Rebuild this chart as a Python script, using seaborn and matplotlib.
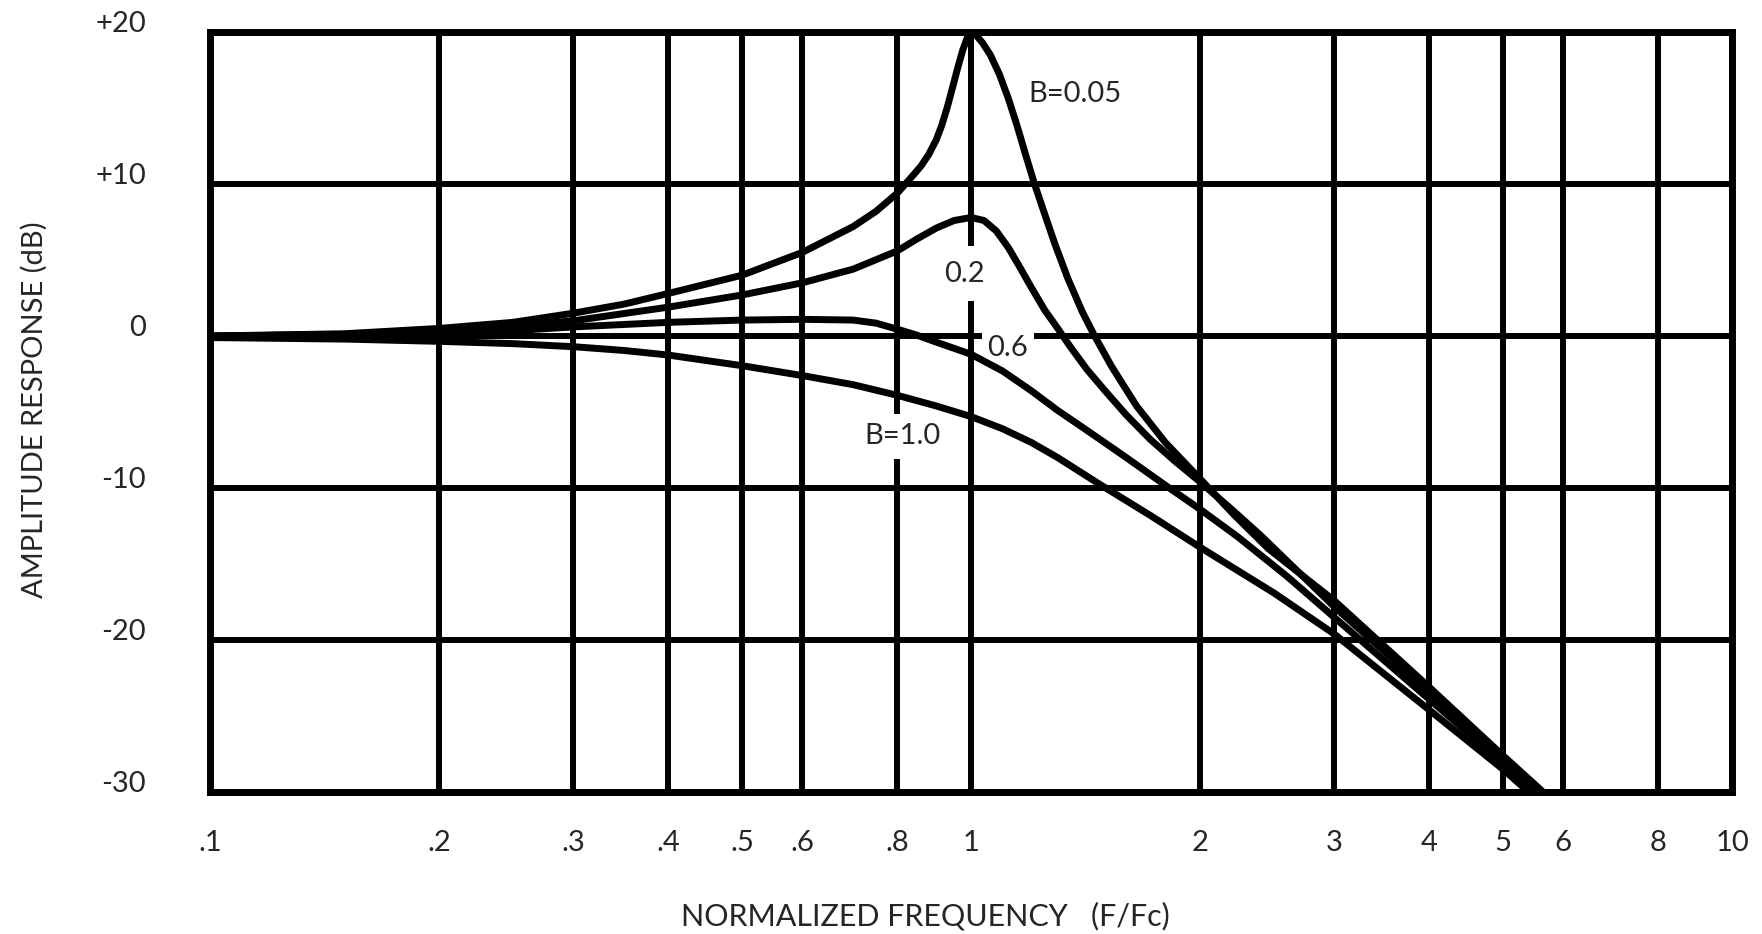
import pandas as pd
import matplotlib
matplotlib.use('Agg')
import matplotlib.pyplot as plt
import seaborn as sns
from matplotlib.ticker import NullLocator


# Curvas (frequencia normalizada F/Fc x resposta em dB)
f_005 = [0.1, 0.15, 0.2, 0.25, 0.3, 0.35, 0.4, 0.5, 0.6, 0.7,
         0.75, 0.8, 0.84, 0.86, 0.88, 0.9, 0.915, 0.93, 0.945, 0.96,
         0.975, 0.99, 1.0, 1.015, 1.035, 1.06, 1.09, 1.12, 1.15, 1.18,
         1.21, 1.25, 1.29, 1.34, 1.4, 1.45, 1.53, 1.65, 1.8, 2.0,
         2.22, 2.46, 3.0, 4.0, 5.0, 6.0]
db_005 = [0.0, 0.15, 0.5, 0.9, 1.5, 2.1, 2.8, 4.0, 5.5, 7.2,
          8.2, 9.4, 10.6, 11.2, 11.95, 12.9, 13.85, 15.0, 16.3, 17.6,
          18.8, 19.7, 20.0, 19.8, 19.3, 18.5, 17.2, 15.6, 13.8, 11.9,
          10.1, 8.0, 6.0, 3.8, 1.6, 0.1, -2.0, -4.6, -7.0, -9.4,
          -11.8, -14.0, -17.4, -23.1, -27.6, -31.2]

f_02 = [0.1, 0.15, 0.2, 0.25, 0.3, 0.4, 0.5, 0.6, 0.7, 0.8,
        0.85, 0.9, 0.95, 1.0, 1.04, 1.08, 1.12, 1.16, 1.2, 1.25,
        1.3, 1.35, 1.42, 1.5, 1.6, 1.72, 1.85, 2.0, 2.2, 2.4,
        3.0, 4.0, 5.0, 6.0]
db_02 = [0.0, 0.1, 0.35, 0.65, 1.0, 1.9, 2.7, 3.5, 4.4, 5.6,
         6.4, 7.1, 7.6, 7.8, 7.6, 6.9, 5.8, 4.5, 3.2, 1.7,
         0.5, -0.7, -2.2, -3.6, -5.2, -6.8, -8.2, -9.6, -11.4, -13.1,
         -17.8, -23.4, -27.8, -31.4]

f_06 = [0.1, 0.2, 0.25, 0.3, 0.4, 0.5, 0.6, 0.7, 0.75, 0.8,
        0.85, 0.9, 1.0, 1.1, 1.2, 1.3, 1.41, 1.6, 1.81, 2.0,
        2.24, 2.6, 3.0, 4.0, 5.0, 6.0]
db_06 = [0.0, 0.15, 0.35, 0.6, 0.9, 1.05, 1.1, 1.05, 0.85, 0.45,
         0.05, -0.4, -1.2, -2.3, -3.6, -4.9, -6.1, -8.0, -9.9, -11.4,
         -13.2, -15.8, -18.5, -23.9, -28.1, -31.7]

f_10 = [0.1, 0.15, 0.2, 0.25, 0.3, 0.35, 0.4, 0.5, 0.6, 0.7,
        0.8, 0.9, 1.0, 1.1, 1.2, 1.3, 1.47, 1.72, 2.0, 2.5,
        3.0, 4.0, 5.0, 6.0]
db_10 = [-0.1, -0.2, -0.35, -0.5, -0.7, -0.95, -1.25, -1.95, -2.6, -3.2,
         -3.9, -4.6, -5.3, -6.1, -7.0, -8.0, -9.7, -11.8, -13.9, -16.9,
         -19.6, -24.6, -28.5, -32.0]

x_ticks = [0.1, 0.2, 0.3, 0.4, 0.5, 0.6, 0.8, 1, 2, 3, 4, 5, 6, 8, 10]
x_labels = ['.1', '.2', '.3', '.4', '.5', '.6', '.8', '1', '2', '3', '4', '5', '6', '8', '10']
y_ticks = [-30, -20, -10, 0, 10, 20]
y_labels = ['-30', '-20', '-10', '0', '+10', '+20']


sns.set_style('white')
plt.rcParams['font.family'] = ['Lato', 'DejaVu Sans']

curvas = pd.concat([
    pd.DataFrame({'freq': f_005, 'db': db_005, 'B': '0.05'}),
    pd.DataFrame({'freq': f_02, 'db': db_02, 'B': '0.2'}),
    pd.DataFrame({'freq': f_06, 'db': db_06, 'B': '0.6'}),
    pd.DataFrame({'freq': f_10, 'db': db_10, 'B': '1.0'}),
], ignore_index=True)

fig = plt.figure(figsize=(17.62, 9.34), dpi=100)
ax = fig.add_axes([0.1192, 0.152, 0.8638, 0.8137])

sns.lineplot(data=curvas, x='freq', y='db', hue='B', palette=['black'] * 4,
             linewidth=5.0, legend=False, ax=ax, zorder=3,
             solid_joinstyle='round', solid_capstyle='butt')

ax.set_xscale('log')
ax.set_xlim(0.1, 10)
ax.set_ylim(-30, 20)
ax.set_xticks(x_ticks)
ax.set_xticklabels(x_labels)
ax.xaxis.set_minor_locator(NullLocator())
ax.set_yticks(y_ticks)
ax.set_yticklabels(y_labels, va='baseline')
ax.set_xlabel('')
ax.set_ylabel('')
ax.set_axisbelow(True)
ax.grid(True, which='major', color='black', linewidth=4.3)
ax.tick_params(axis='x', length=0, labelsize=21, pad=27)
ax.tick_params(axis='y', length=0, labelsize=21, pad=46)
for s in ax.spines.values():
    s.set_linewidth(5.0)
    s.set_color('black')

# rotulos das curvas (caixa branca interrompe a grade)
ax.text(1.19, 15.9, 'B=0.05', ha='left', va='center', fontsize=21, zorder=2)
ax.text(0.98, 4.1, '0.2', ha='center', va='center', fontsize=21, zorder=2,
        bbox=dict(boxstyle='square,pad=0.5', fc='white', ec='none'))
ax.text(1.118, -0.8, '0.6', ha='center', va='center', fontsize=21, zorder=2,
        bbox=dict(boxstyle='square,pad=0.2', fc='white', ec='none'))
ax.text(0.812, -6.6, 'B=1.0', ha='center', va='center', fontsize=21, zorder=2,
        bbox=dict(boxstyle='square,pad=0.33', fc='white', ec='none'))

fig.text(0.525, 0.019, 'NORMALIZED FREQUENCY   (F/Fc)', ha='center', va='center', fontsize=22)
fig.text(0.0195, 0.561, 'AMPLITUDE RESPONSE (dB)', ha='center', va='center',
         rotation=90, fontsize=21)

fig.savefig('out.png', dpi=100)
